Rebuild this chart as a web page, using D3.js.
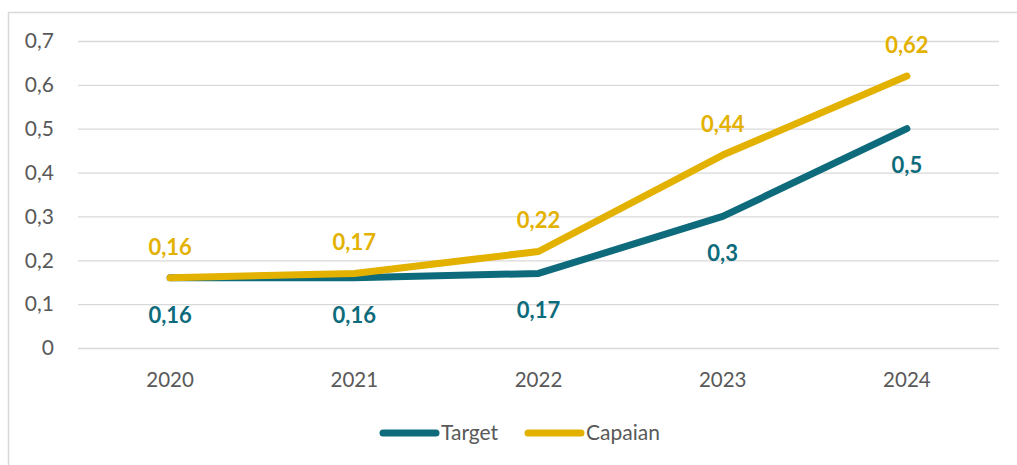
<!DOCTYPE html>
<html><head><meta charset="utf-8">
<script src="https://cdn.jsdelivr.net/npm/d3@7"></script>
<style>body{margin:0;background:#fff}svg{display:block}text{font-family:Lato,"Open Sans",sans-serif}</style>
</head><body><svg id="c" width="1017" height="465"></svg>
<script>
const categories = ["2020","2021","2022","2023","2024"];
const targetValues = [0.16,0.16,0.17,0.3,0.5];
const capaianValues = [0.16,0.17,0.22,0.44,0.62];
const yTicks = [0,0.1,0.2,0.3,0.4,0.5,0.6,0.7];
const seriesNames = ["Target","Capaian"];
const colors = {Target:"#0d6b7b", Capaian:"#e3b100"};
const fmt = v => String(v).replace(".", ",");

const svg = d3.select("#c");
svg.append("rect").attr("x",8.5).attr("y",12.5).attr("width",1030).attr("height",470)
  .attr("fill","#fff").attr("stroke","#d9d9d9").attr("stroke-width",1.5);

const x = d3.scaleBand().domain(categories).range([78,999]);
const y = d3.scaleLinear().domain([0,0.7]).range([348,41]);
const cx = d => x(d)+x.bandwidth()/2;

const yAxis = svg.append("g").attr("transform","translate(78,0)")
  .call(d3.axisLeft(y).tickValues(yTicks).tickSize(-921).tickFormat(d=>fmt(d)).tickPadding(24));
yAxis.select(".domain").remove();
yAxis.selectAll(".tick line").attr("stroke","#d9d9d9").attr("stroke-width",1.3);
yAxis.selectAll(".tick text").attr("fill","#595959").attr("font-size",21);

const xAxis = svg.append("g").attr("transform","translate(0,348)")
  .call(d3.axisBottom(x).tickSize(0).tickPadding(24));
xAxis.select(".domain").remove();
xAxis.selectAll(".tick text").attr("fill","#595959").attr("font-size",20.5);

const line = d3.line().x(d=>cx(d.c)).y(d=>y(d.v));
const series = [
  {name:"Target", values: targetValues, dy: 37},
  {name:"Capaian", values: capaianValues, dy: -31}
];
series.forEach(s=>{
  const pts = categories.map((c,i)=>({c, v:s.values[i]}));
  svg.append("path").datum(pts).attr("d",line).attr("fill","none")
    .attr("stroke",colors[s.name]).attr("stroke-width",7)
    .attr("stroke-linecap","round").attr("stroke-linejoin","round");
});
series.forEach(s=>{
  const pts = categories.map((c,i)=>({c, v:s.values[i]}));
  svg.append("g").selectAll("text").data(pts).join("text")
    .attr("x",d=>cx(d.c)).attr("y",d=>y(d.v)+s.dy).attr("dy","0.35em")
    .attr("text-anchor","middle").attr("font-size",22).attr("font-weight","bold")
    .attr("fill",colors[s.name]).text(d=>fmt(d.v));
});

const legend = svg.append("g");
const lx = [380, 525];
seriesNames.forEach((n,i)=>{
  legend.append("line").attr("x1",lx[i]+3).attr("x2",lx[i]+56).attr("y1",433).attr("y2",433)
    .attr("stroke",colors[n]).attr("stroke-width",7).attr("stroke-linecap","round");
  legend.append("text").attr("x",lx[i]+61).attr("y",433).attr("dy","0.35em")
    .attr("font-size",21).attr("fill","#595959").text(n);
});
</script></body></html>
